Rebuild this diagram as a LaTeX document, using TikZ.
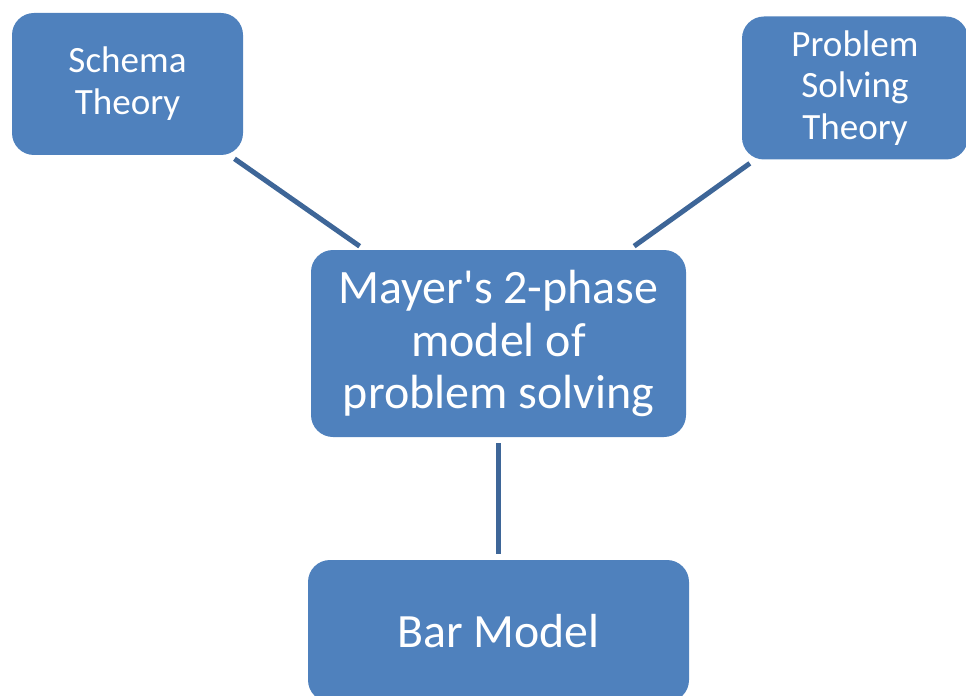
\documentclass[tikz,border=0pt]{standalone}
\usepackage{fontspec}
\setmainfont{Carlito}
\usepackage{tikz}
\usetikzlibrary{positioning}

\definecolor{boxblue}{RGB}{79,129,189}
\definecolor{linkblue}{RGB}{62,102,152}

\begin{document}
\begin{tikzpicture}[
        theorybox/.style={rectangle, rounded corners=0.44cm, fill=boxblue, text=white, align=center, inner sep=0pt},
        smalltext/.style={font=\fontsize{21.1}{23.8}\selectfont},
        linkline/.style={linkblue, line width=0.1cm, shorten <=0.12cm, shorten >=0.12cm}
    ]

        \useasboundingbox (0,0) rectangle (19.32,-13.92);

        \node[theorybox, smalltext, minimum width=4.62cm, minimum height=2.84cm] (schema) at (2.55,-1.68) {Schema\\Theory};
        \node[theorybox, smalltext, minimum width=4.52cm, minimum height=2.86cm] (problem) at (17.1,-1.76) {Problem\\Solving\\Theory};

        \node[theorybox, minimum width=7.5cm, minimum height=3.74cm, font=\fontsize{27.3}{29.7}\selectfont] (mayer) at (9.97,-6.87) {Mayer\textquotesingle s 2-phase\\model of\\problem solving};

        \node[theorybox, minimum width=7.62cm, minimum height=2.84cm, font=\fontsize{27.2}{31}\selectfont] (bar) at (9.97,-12.62) {Bar Model};

        \draw[linkline] (schema) -- (mayer);
        \draw[linkline] (problem) -- (mayer);
        \draw[linkline] (mayer) -- (bar);
    \end{tikzpicture}
\end{document}
